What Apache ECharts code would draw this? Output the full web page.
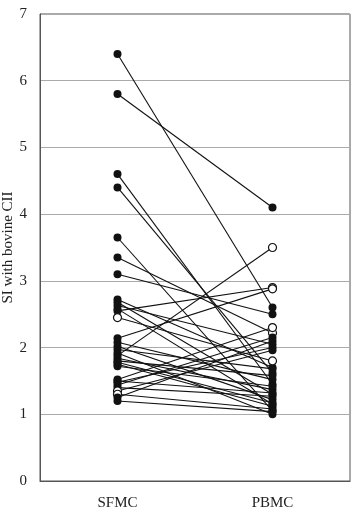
<!DOCTYPE html>
<html>
<head>
<meta charset="utf-8">
<script src="https://cdn.jsdelivr.net/npm/echarts@6/dist/echarts.min.js"></script>
<style>html,body{margin:0;padding:0;background:#fff}#c{width:358px;height:508px}</style>
</head>
<body>
<div id="c"></div>
<script>
var categories = ['SFMC', 'PBMC'];
var yTicks = [0, 1, 2, 3, 4, 5, 6, 7];
var sfmc = [6.4, 5.8, 4.6, 4.4, 3.65, 3.35, 3.1, 2.72, 2.68, 2.63, 2.58, 2.55, 2.45, 2.14, 2.08, 2.02, 1.97, 1.92, 1.88, 1.84, 1.8, 1.75, 1.72, 1.52, 1.48, 1.44, 1.4, 1.35, 1.3, 1.25, 1.2, 1.5, 1.78];
var pbmc = [2.6, 4.1, 1.45, 1.62, 1.05, 2.22, 2.5, 1.7, 1.3, 2.05, 1.15, 2.9, 1.8, 2.88, 1.52, 1.22, 1.68, 1.0, 3.5, 1.37, 1.58, 1.12, 1.42, 2.3, 2.0, 2.15, 1.27, 1.96, 1.08, 2.1, 1.04, 1.32, 1.17];
var sfmcOpen = [0,0,0,0,0,0,0,0,0,0,0,0,1,0,0,0,0,0,0,0,0,0,0,0,0,0,0,1,1,0,0,0,0];
var pbmcOpen = [0,0,0,0,0,1,0,0,0,0,0,1,1,1,0,0,0,0,1,0,0,0,0,1,0,0,0,0,0,0,0,0,0];

function pt(v, open) {
  return {
    value: v,
    itemStyle: open ? {color: '#fff', borderColor: '#111', borderWidth: 1.2} : {color: '#111', borderColor: '#111', borderWidth: 0}
  };
}
var series = sfmc.map(function (a, i) {
  return {
    type: 'line',
    data: [pt(a, sfmcOpen[i]), pt(pbmc[i], pbmcOpen[i])],
    symbol: 'circle',
    symbolSize: 8,
    lineStyle: {color: '#111', width: 1.1},
    animation: false,
    z: 3
  };
});
var chart = echarts.init(document.getElementById('c'));
chart.setOption({
  animation: false,
  grid: {left: 40, right: 8, top: 14, bottom: 27, show: true, borderColor: '#555', borderWidth: 1, containLabel: false, outerBoundsMode: 'none'},
  xAxis: {
    type: 'category', data: categories, boundaryGap: true,
    axisLine: {show: true, lineStyle: {color: '#555'}},
    axisTick: {show: false},
    axisLabel: {fontFamily: 'Liberation Serif', fontSize: 15, color: '#222', margin: 15}
  },
  yAxis: {
    type: 'value', min: yTicks[0], max: yTicks[yTicks.length - 1], interval: 1,
    name: 'SI with bovine CII', nameLocation: 'middle', nameGap: 24, nameMoveOverlap: false,
    nameTextStyle: {fontFamily: 'Liberation Serif', fontSize: 15, color: '#222'},
    axisLine: {show: true, lineStyle: {color: '#555'}},
    axisTick: {show: false},
    axisLabel: {fontFamily: 'Liberation Serif', fontSize: 15, color: '#222', margin: 13},
    splitLine: {show: true, lineStyle: {color: '#aaa', width: 1}}
  },
  series: series
});
</script>
</body>
</html>
